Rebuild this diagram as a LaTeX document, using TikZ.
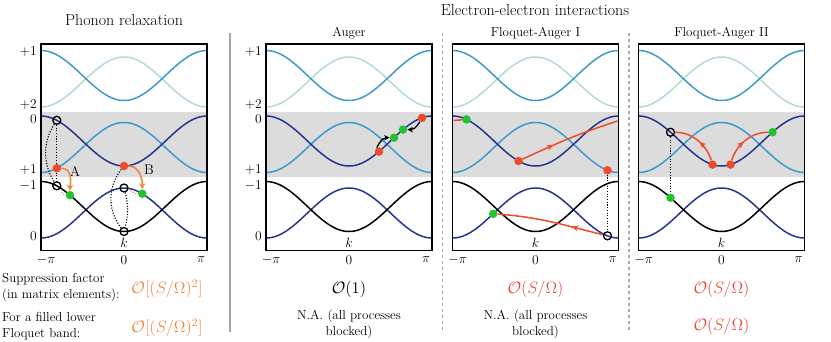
\RequirePackage{fix-cm}
\documentclass[tikz,border=0pt]{standalone}
\usetikzlibrary{arrows.meta,decorations.markings}
\definecolor{cnavy}{HTML}{26358F}
\definecolor{cblue}{HTML}{3D9ACB}
\definecolor{cgrn}{HTML}{B3DDC9}
\definecolor{cband}{HTML}{DCDCDC}
\definecolor{cred}{HTML}{EE4B2B}
\definecolor{cgreen}{HTML}{22C32E}
\definecolor{corange}{HTML}{F2873A}
\definecolor{csep}{HTML}{A8A8A8}
\definecolor{ctred}{HTML}{EC4A35}
\tikzset{
  bnd/.style={line width=1.5pt},
  frm/.style={draw=black,line width=1.8pt},
  dotr/.style={circle,fill=cred,inner sep=0pt,minimum size=8.5pt},
  dotg/.style={circle,fill=cgreen,inner sep=0pt,minimum size=8.5pt},
  ocirc/.style={circle,draw=black,line width=1.3pt,inner sep=0pt,minimum size=8pt},
  dotl/.style={line width=1.1pt,dash pattern=on 1.1pt off 1.6pt},
  odot/.style={dotl,draw=corange},
  oarr/.style={draw=corange,line width=1.6pt,-{Stealth[length=6pt,width=6pt]}},
  barr/.style={draw=black,line width=1.3pt,-{Stealth[length=5.5pt,width=5.5pt]}},
  rline/.style={draw=cred,line width=1.5pt},
  midarr/.style={postaction={decorate},decoration={markings,mark=at position #1 with {\arrow[cred]{Stealth[length=6.5pt,width=6pt]}}}},
  ttl/.style={font=\fontsize{16}{19}\selectfont},
  sub/.style={font=\fontsize{13}{15}\selectfont},
  tk/.style={font=\fontsize{13.5}{16}\selectfont,inner sep=0pt},
  lbl/.style={font=\fontsize{14}{16}\selectfont,inner sep=0pt},
  txt/.style={font=\fontsize{13}{16}\selectfont,inner sep=0pt},
  big/.style={font=\fontsize{16.5}{19}\selectfont,inner sep=0pt},
  sepl/.style={draw=csep,line width=2pt},
  sepd/.style={draw=csep,line width=1.5pt,dash pattern=on 3pt off 3pt},
}
\newcommand\drawpanel[2]{%
  \fill[cband] ({#1-83},111.7) rectangle ({#1+83},176.7);
  \draw[bnd,cgrn] plot[domain=-180:180,samples=91,smooth] ({#1+83*\x/180},{82-25*cos(\x)});
  \draw[bnd,cblue] plot[domain=-180:180,samples=91,smooth] ({#1+83*\x/180},{75.5+25*cos(\x)});
  \draw[bnd,cblue] plot[domain=-180:180,samples=91,smooth] ({#1+83*\x/180},{147.5-25*cos(\x)});
  \draw[bnd,cnavy] plot[domain=-180:180,samples=91,smooth] ({#1+83*\x/180},{141+25*cos(\x)});
  \draw[bnd,cnavy] plot[domain=-180:180,samples=91,smooth] ({#1+83*\x/180},{213-25*cos(\x)});
  \draw[bnd,black] plot[domain=-180:180,samples=91,smooth] ({#1+83*\x/180},{206.5+25*cos(\x)});
  \draw[frm] ({#1-83},44) rectangle ({#1+83},250.5);
  \node[tk] (#2k) at (#1,243) {$k$};
  \node[tk] (#2xa) at ({#1-78},260) {$-\pi$};
  \node[tk] (#2xb) at (#1,260) {$0$};
  \node[tk] (#2xc) at ({#1+77},260) {$\pi$};
}
\newcommand\ylabs[2]{%
  \node[tk,anchor=east] (#2y1) at ({#1-4},52) {$+1$};
  \node[tk,anchor=east] (#2y2) at ({#1-4},104.5) {$+2$};
  \node[tk,anchor=east] (#2y3) at ({#1-4},119.5) {$0$};
  \node[tk,anchor=east] (#2y4) at ({#1-4},170) {$+1$};
  \node[tk,anchor=east] (#2y5) at ({#1-4},186) {$-1$};
  \node[tk,anchor=east] (#2y6) at ({#1-4},236) {$0$};
}
\begin{document}
\begin{tikzpicture}[x=1pt,y=1pt,yscale=-1]
\useasboundingbox (0,0) rectangle (831,341);
% titles
\node[ttl] (t1) at (124,20) {Phonon relaxation};
\node[ttl] (t2) at (535,10) {Electron-electron interactions};
\node[sub] (s2) at (349,33) {Auger};
\node[sub] (s3) at (535.5,33) {Floquet-Auger I};
\node[sub] (s4) at (721.5,33) {Floquet-Auger II};
% separators
\draw[sepl] (230,33) -- (230,332);
\draw[sepd] (442.5,33) -- (442.5,333);
\draw[sepd] (629,33) -- (629,333);
% panels
\drawpanel{124}{p1}
\drawpanel{349}{p2}
\drawpanel{535.5}{p3}
\drawpanel{721.5}{p4}
\ylabs{41}{p1}
\ylabs{266}{p2}
% panel 1: phonon relaxation
\node[ocirc] (p1o1) at (56.8,120.3) {};
\node[ocirc] (p1o2) at (56.8,185.8) {};
\node[dotr] (p1rA) at (56.8,168.2) {};
\node[dotg] (p1gA) at (70,195.2) {};
\node[dotr] (p1rB) at (124,166) {};
\node[ocirc] (p1o3) at (124,188) {};
\node[ocirc] (p1o4) at (124,231.5) {};
\node[dotg] (p1gB) at (142.3,193.7) {};
\node[lbl] (p1A) at (75,171) {A};
\node[lbl] (p1B) at (149,170) {B};
\draw[dotl] (p1o1) -- (p1rA);
\draw[dotl] (p1rA) -- (p1o2);
\draw[dotl] (p1o1) to[out=115,in=-115] (p1o2);
\draw[dotl] (p1rB) to[out=120,in=-120] (p1o4);
\draw[dotl] (p1o3) to[out=80,in=-80] (p1o4);
\draw[odot] (p1o2) to[out=60,in=180] (p1gA);
\draw[odot] (p1o3) to[out=60,in=170] (p1gB);
\draw[oarr] (p1rA) to[out=0,in=-90] (p1gA);
\draw[oarr] (p1rB) to[out=0,in=-90] (p1gB);
% panel 2: Auger
\node[dotr] (p2r1) at (379,151.6) {};
\node[dotg] (p2g1) at (394,137.7) {};
\node[dotg] (p2g2) at (403,129.6) {};
\node[dotr] (p2r2) at (422,117.8) {};
\draw[barr] (p2r1) to[out=-100,in=180] (p2g1);
\draw[barr] (p2r2) to[out=100,in=0] (p2g2);
% panel 3: Floquet-Auger I
\node[dotg] (p3g1) at (466.5,119.4) {};
\node[dotr] (p3r1) at (518.5,161) {};
\node[dotr] (p3r2) at (607.5,170.3) {};
\node[ocirc] (p3o) at (607.5,235.8) {};
\node[dotg] (p3g2) at (493.2,213.8) {};
\coordinate (p3eR) at (617.5,121);
\coordinate (p3eL) at (453.5,120.5);
\draw[rline,midarr=0.33] (p3r1) to[out=-30,in=162] (p3eR);
\draw[rline] (p3eL) -- (p3g1);
\draw[dotl] (p3r2) -- (p3o);
\draw[rline,midarr=0.3] (p3o) to[out=197,in=5] (p3g2);
% panel 4: Floquet-Auger II
\node[ocirc] (p4o) at (670.5,132.25) {};
\node[dotg] (p4g1) at (670.5,197.75) {};
\node[dotr] (p4r1) at (712.5,164.6) {};
\node[dotr] (p4r2) at (730.5,164.6) {};
\node[dotg] (p4g2) at (772.5,132.25) {};
\draw[dotl] (p4o) -- (p4g1);
\draw[rline,midarr=0.45] (p4r1) to[out=-100,in=0] (p4o);
\draw[rline,midarr=0.45] (p4r2) to[out=-80,in=180] (p4g2);
% bottom rows
\node[txt,anchor=west,align=left] (b1) at (2,288) {Suppression factor\\(in matrix elements):};
\node[txt,anchor=west,align=left] (b2) at (2,326) {For a filled lower\\Floquet band:};
\node[big,text=corange] (b3) at (167,289) {$\mathcal{O}[(S/\Omega)^2]$};
\node[big,text=corange] (b4) at (167,328) {$\mathcal{O}[(S/\Omega)^2]$};
\node[big] (b5) at (349,289) {$\mathcal{O}(1)$};
\node[txt,align=center] (b6) at (349,324) {N.A. (all processes\\blocked)};
\node[big,text=ctred] (b7) at (535.5,289) {$\mathcal{O}(S/\Omega)$};
\node[txt,align=center] (b8) at (535.5,324) {N.A. (all processes\\blocked)};
\node[big,text=ctred] (b9) at (721.5,289) {$\mathcal{O}(S/\Omega)$};
\node[big,text=ctred] (b10) at (721.5,326) {$\mathcal{O}(S/\Omega)$};
\end{tikzpicture}
\end{document}
